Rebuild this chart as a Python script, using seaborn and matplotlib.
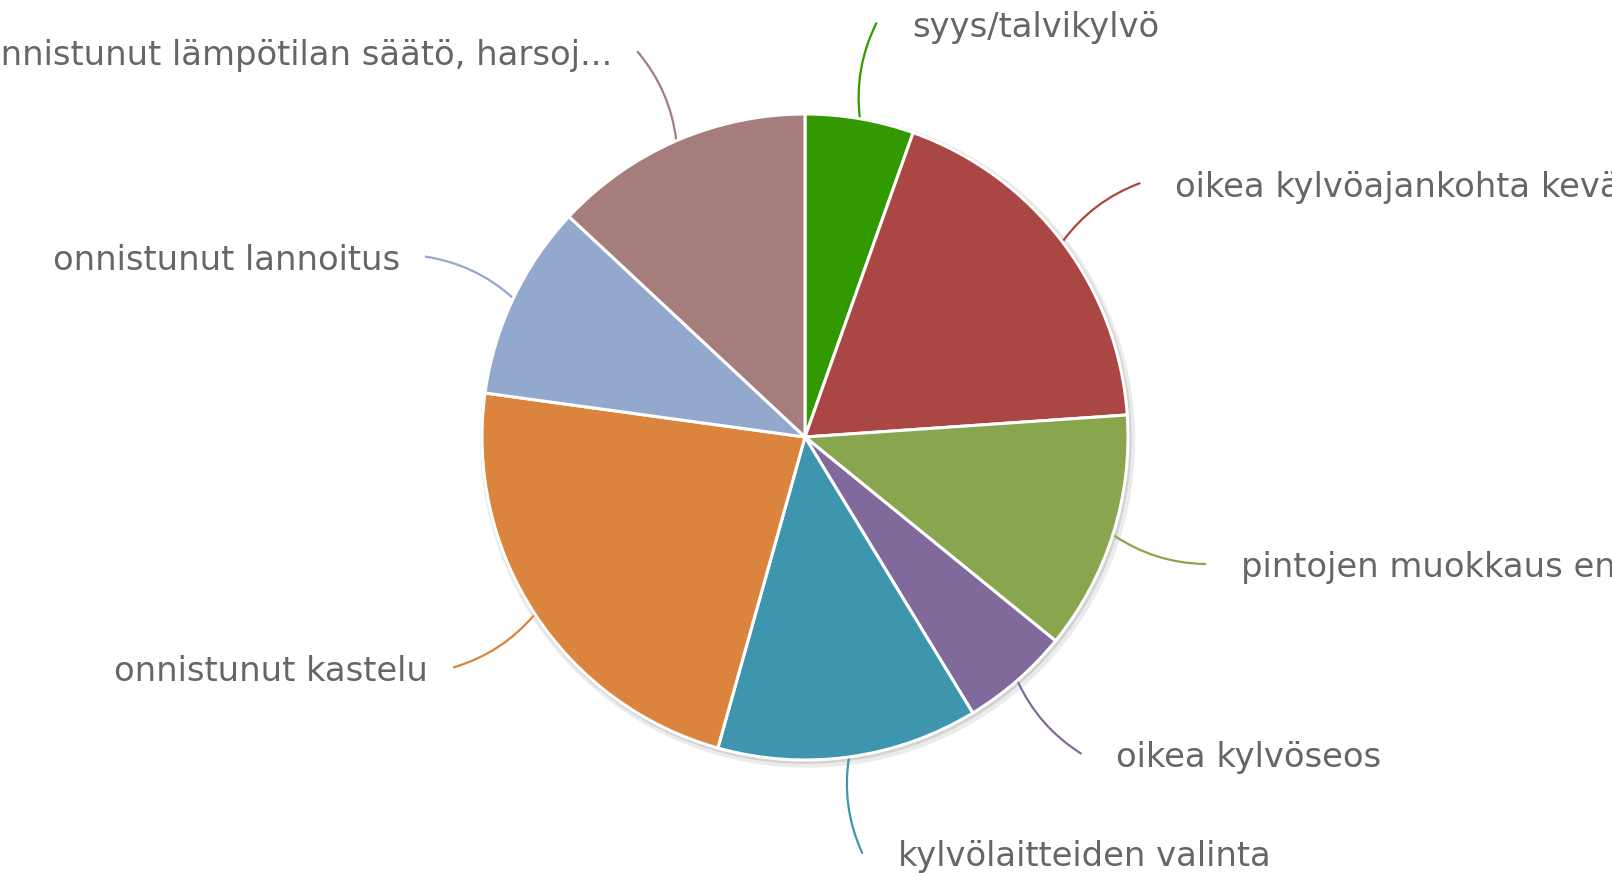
import numpy as np
import seaborn as sns
import matplotlib.pyplot as plt
from matplotlib.patches import Circle

# data
labels = [
    'syys/talvikylvö',
    'oikea kylvöajankohta keväällä',
    'pintojen muokkaus ennen kylvöä',
    'oikea kylvöseos',
    'kylvölaitteiden valinta',
    'onnistunut kastelu',
    'onnistunut lannoitus',
    'onnistunut lämpötilan säätö, harsoj...',
]
values = [5, 17, 11, 5, 12, 21, 9, 12]
colors = ['#339900', '#AA4643', '#89A54E', '#80699B',
          '#3D96AE', '#DB843D', '#92A8CD', '#A47D7C']

sns.set_theme(style='white')
plt.rcParams['font.family'] = ['DejaVu Sans']

W, H = 1612, 877
fig = plt.figure(figsize=(W / 100, H / 100), dpi=100)
ax = fig.add_axes([0, 0, 1, 1])

# pie centre / radius in pixels
cx, cy, r = 805, 437, 323

# soft shadow around the pie
ax.add_patch(Circle((0.008, -0.01), 1.014, facecolor='#ebebeb', edgecolor='none', zorder=0))
ax.add_patch(Circle((0.004, -0.005), 1.007, facecolor='#d2d2d2', edgecolor='none', zorder=0.5))

wedges, _ = ax.pie(values, colors=colors, startangle=90, counterclock=False,
                   radius=1.0,
                   wedgeprops=dict(edgecolor='white', linewidth=2.2))
for w in wedges:
    w.set_zorder(2)

for w, lab, col in zip(wedges, labels, colors):
    ang = np.deg2rad((w.theta1 + w.theta2) / 2)
    ex, ey = np.cos(ang), np.sin(ang)
    tx, ty = 1.30 * ex, 1.30 * ey
    sgn = 1 if ex * ey > 0 else -1
    ax.annotate('', xy=(ex, ey), xytext=(tx, ty),
                arrowprops=dict(arrowstyle='-', color=col, lw=1.6,
                                shrinkA=0, shrinkB=0,
                                connectionstyle=f'arc3,rad={0.15 * sgn}'),
                zorder=1)
    if ex >= 0:
        ax.text(tx + 0.11, ty - 0.012, lab, ha='left', va='center',
                fontsize=24.3, color='#666666')
    else:
        ax.text(tx - 0.08, ty - 0.012, lab, ha='right', va='center',
                fontsize=24.3, color='#666666')

ax.set_aspect('auto')
ax.set_xlim(-cx / r, (W - cx) / r)
ax.set_ylim(-(H - cy) / r, cy / r)
ax.axis('off')

plt.savefig('out.png', dpi=100, facecolor='white')
